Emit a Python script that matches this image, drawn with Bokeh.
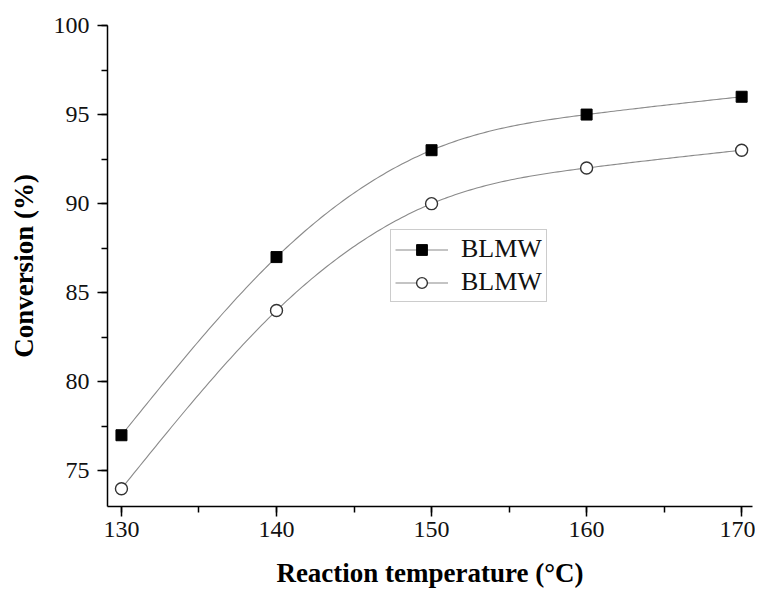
import numpy as np
from bokeh.plotting import figure
from bokeh.models import SingleIntervalTicker, Range1d, Legend, LegendItem
from bokeh.embed import file_html
from bokeh.resources import INLINE

temperature = [130, 140, 150, 160, 170]
series_a = [77, 87, 93, 95, 96]
series_b = [74, 84, 90, 92, 93]
label_a = "BLMW"
label_b = "BLMW"
x_title = "Reaction temperature (°C)"
y_title = "Conversion (%)"


def natural_spline(x, y, n=200):
    x = np.asarray(x, float)
    y = np.asarray(y, float)
    k = len(x)
    h = np.diff(x)
    A = np.zeros((k, k))
    b = np.zeros(k)
    A[0, 0] = A[-1, -1] = 1
    for i in range(1, k - 1):
        A[i, i - 1] = h[i - 1]
        A[i, i] = 2 * (h[i - 1] + h[i])
        A[i, i + 1] = h[i]
        b[i] = 3 * ((y[i + 1] - y[i]) / h[i] - (y[i] - y[i - 1]) / h[i - 1])
    c = np.linalg.solve(A, b)
    xs = np.linspace(x[0], x[-1], n)
    ys = np.empty_like(xs)
    for j, xv in enumerate(xs):
        i = min(np.searchsorted(x, xv, side="right") - 1, k - 2)
        dx = xv - x[i]
        bi = (y[i + 1] - y[i]) / h[i] - h[i] * (2 * c[i] + c[i + 1]) / 3
        di = (c[i + 1] - c[i]) / (3 * h[i])
        ys[j] = y[i] + bi * dx + c[i] * dx ** 2 + di * dx ** 3
    return xs, ys


FONT = "Liberation Serif"

p = figure(width=755, height=594, output_backend="svg", toolbar_location=None,
           x_range=Range1d(129.1, 170.7), y_range=Range1d(73, 100),
           min_border_left=107, min_border_right=3, min_border_top=25, min_border_bottom=88)
p.grid.visible = False
p.outline_line_color = None
p.background_fill_color = "white"
p.border_fill_color = "white"

xs, ys = natural_spline(temperature, series_a)
la = p.line(xs, ys, line_color="#8a8a8a", line_width=1.1)
xs, ys = natural_spline(temperature, series_b)
lb = p.line(xs, ys, line_color="#8a8a8a", line_width=1.1)
sa = p.scatter(temperature, series_a, marker="square", size=11, fill_color="black", line_color="black")
sb = p.scatter(temperature, series_b, marker="circle", size=12, fill_color="white", line_color="#333333", line_width=1.4)

legend = Legend(items=[LegendItem(label=label_a, renderers=[la, sa]),
                       LegendItem(label=label_b, renderers=[lb, sb])],
                location=(283, 204))
legend.label_text_font = FONT
legend.label_text_font_size = "26px"
legend.label_text_color = "#111111"
legend.glyph_width = 53
legend.glyph_height = 27
legend.label_height = 27
legend.spacing = 3
legend.padding = 4
legend.margin = 0
legend.label_standoff = 13
legend.border_line_color = "#999999"
legend.border_line_width = 1.2
legend.background_fill_alpha = 1
p.add_layout(legend)

p.xaxis.ticker = SingleIntervalTicker(interval=10, num_minor_ticks=2)
p.yaxis.ticker = SingleIntervalTicker(interval=5, num_minor_ticks=2)
for ax in (p.xaxis, p.yaxis):
    ax.axis_line_color = "black"
    ax.axis_line_width = 1.5
    ax.major_tick_line_width = 1.5
    ax.minor_tick_line_width = 1.5
    ax.major_tick_in = 0
    ax.major_tick_out = 10
    ax.minor_tick_in = 0
    ax.minor_tick_out = 6
    ax.major_label_text_font = FONT
    ax.major_label_text_font_size = "24px"
    ax.major_label_text_color = "#111111"
    ax.axis_label_text_font = FONT
    ax.axis_label_text_font_style = "bold"
    ax.axis_label_text_font_size = "27px"
    ax.axis_label_text_color = "black"
    ax.axis_label_text_line_height = 1.0

p.xaxis.axis_label = x_title
p.yaxis.axis_label = y_title
p.xaxis.major_label_standoff = 5
p.yaxis.major_label_standoff = 8
p.xaxis.axis_label_standoff = 18
p.yaxis.axis_label_standoff = 12

open("out.html", "w").write(file_html(p, INLINE))
